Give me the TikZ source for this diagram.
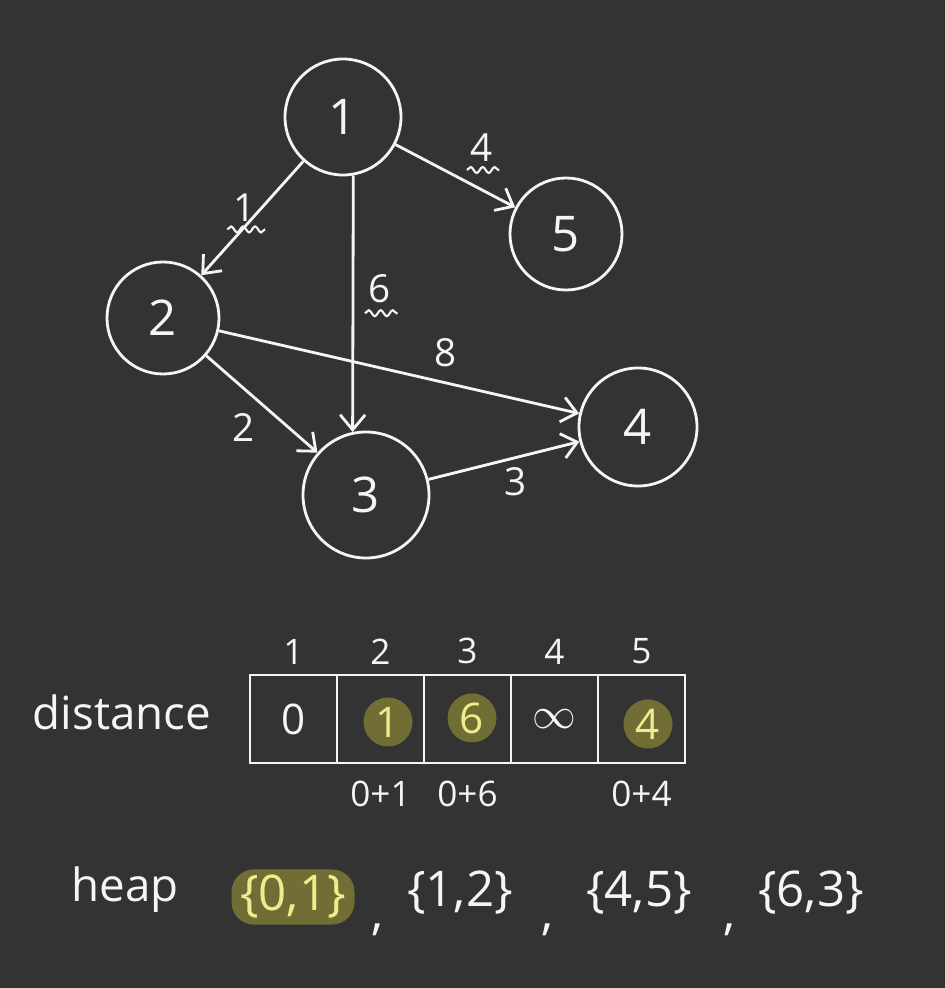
\documentclass[tikz,border=0pt]{standalone}
\usepackage{fontspec}
\setmainfont{Open Sans}
\usetikzlibrary{positioning,arrows.meta,decorations.pathmorphing}
\definecolor{board}{RGB}{51,51,51}
\definecolor{chalk}{RGB}{245,245,245}
\definecolor{marker}{RGB}{112,110,52}
\definecolor{markertext}{RGB}{240,235,140}
\begin{document}
\begin{tikzpicture}[node distance=0pt, line width=1.6pt, color=chalk,
    vertex/.style={circle, draw, inner sep=0pt, font=\fontsize{28}{30}\selectfont},
    edge/.style={-{Straight Barb[length=3mm,width=5mm]}},
    weight/.style={inner sep=1pt, font=\fontsize{22}{24}\selectfont},
    wavy/.style={decorate, decoration={snake, amplitude=0.6mm, segment length=2.4mm}, line width=1.2pt},
    cell/.style={draw, outer sep=0pt, minimum width=1.74cm, minimum height=1.76cm},
    value/.style={font=\fontsize{24}{26}\selectfont},
    picked/.style={value, circle, fill=marker, text=markertext, minimum size=0.98cm, inner sep=0pt},
    index/.style={inner sep=1pt, font=\fontsize{20}{22}\selectfont},
    word/.style={font=\fontsize{26}{28}\selectfont},
    pair/.style={font=\fontsize{28}{30}\selectfont}]
    \fill[board] (0,0) rectangle (18.9,19.76);
    \useasboundingbox (0,0) rectangle (18.9,19.76);

    \node[vertex, minimum size=2.32cm] (n1) at (6.86,17.42) {1};
    \node[vertex, minimum size=2.24cm] (n5) at (11.32,15.08) {5};
    \node[vertex, minimum size=2.24cm] (n2) at (3.26,13.40) {2};
    \node[vertex, minimum size=2.36cm] (n4) at (12.76,11.22) {4};
    \node[vertex, minimum size=2.52cm] (n3) at (7.32,9.86) {3};

    \draw[edge] (n1) -- node[weight, pos=.48, shift={(-0.19,0.17)}] (w12) {1} (n2);
    \draw[edge] (n1.-80) -- node[weight, pos=.44, shift={(0.54,0)}] (w13) {6} (n3.102);
    \draw[edge] (n1) -- node[weight, pos=.58, shift={(0.34,0.66)}] (w15) {4} (n5);
    \draw[edge] (n2) -- node[weight, pos=.61, shift={(0.13,0.58)}] (w24) {8} (n4);
    \draw[edge] (n2) -- node[weight, pos=.51, shift={(-0.38,-0.44)}] (w23) {2} (n3);
    \draw[edge] (n3) -- node[weight, pos=.54, shift={(0.12,-0.46)}] (w34) {3} (n4);

    \draw[wavy] ([xshift=-0.35cm,yshift=-0.1cm]w12.south) -- ([xshift=0.4cm,yshift=-0.1cm]w12.south);
    \draw[wavy] ([xshift=-0.3cm,yshift=-0.15cm]w13.south) -- ([xshift=0.35cm,yshift=-0.15cm]w13.south);
    \draw[wavy] ([xshift=-0.3cm,yshift=-0.1cm]w15.south) -- ([xshift=0.35cm,yshift=-0.1cm]w15.south);

    \node[word] (dist) at (2.44,5.52) {distance};
    \node[cell] (c1) at (5.87,5.38) {};
    \node[cell, right=of c1] (c2) {};
    \node[cell, right=of c2] (c3) {};
    \node[cell, right=of c3] (c4) {};
    \node[cell, right=of c4] (c5) {};

    \node[value] (v1) at (c1) {0};
    \node[picked] (v2) at ([xshift=0.15cm,yshift=-0.06cm]c2.center) {1};
    \node[picked] (v3) at ([xshift=0.09cm,yshift=0.02cm]c3.center) {6};
    \node[value] (v4) at (c4) {$\infty$};
    \node[picked] (v5) at ([xshift=0.13cm,yshift=-0.1cm]c5.center) {4};

    \node[index, above=0.15cm of c1] (i1) {1};
    \node[index, above=0.15cm of c2] (i2) {2};
    \node[index, above=0.15cm of c3] (i3) {3};
    \node[index, above=0.15cm of c4] (i4) {4};
    \node[index, above=0.15cm of c5] (i5) {5};

    \node[index, below=0.3cm of c2] (s2) {0+1};
    \node[index, below=0.3cm of c3] (s3) {0+6};
    \node[index, below=0.3cm of c5] (s5) {0+4};

    \node[word] (heap) at (2.5,1.96) {heap};
    \node[pair, fill=marker, text=markertext, rounded corners=0.45cm, minimum width=2.46cm, minimum height=1.1cm] (h1) at (5.86,1.82) {\{0,1\}};
    \node[pair] (k1) at (7.56,1.16) {,};
    \node[pair] (h2) at (9.2,1.9) {\{1,2\}};
    \node[pair] (k2) at (10.96,1.16) {,};
    \node[pair] (h3) at (12.78,1.9) {\{4,5\}};
    \node[pair] (k3) at (14.6,1.16) {,};
    \node[pair] (h4) at (16.22,1.9) {\{6,3\}};
\end{tikzpicture}
\end{document}
